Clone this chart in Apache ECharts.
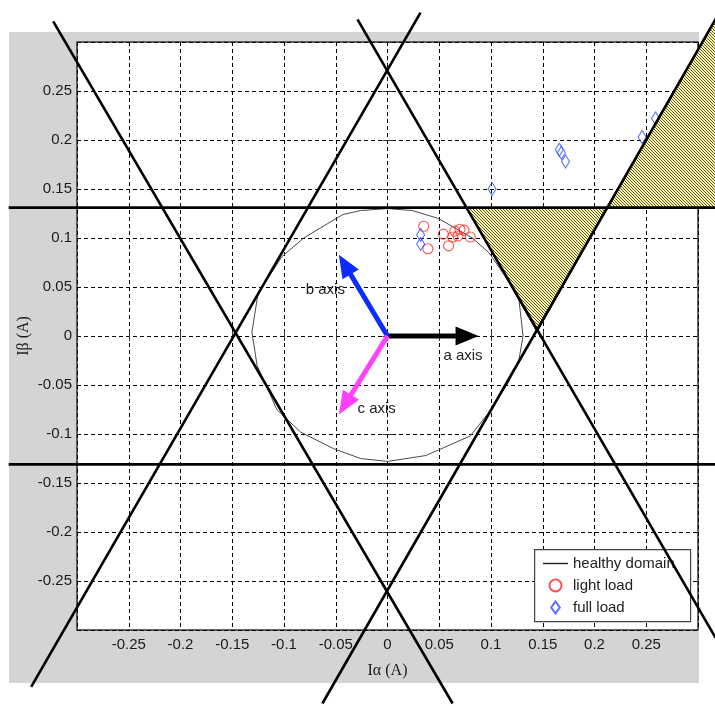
<!DOCTYPE html>
<html><head><meta charset="utf-8">
<script src="https://cdn.jsdelivr.net/npm/echarts/dist/echarts.min.js"></script>
<style>html,body{margin:0;padding:0;background:#fff}#c{width:715px;height:706px}</style>
</head><body><div id="c"></div>
<script>
// ---- data ----
const tickLabelValues = [-0.25,-0.2,-0.15,-0.1,-0.05,0,0.05,0.1,0.15,0.2,0.25];
const healthyDomain = [[0.131,0.000],[0.127,0.037],[0.117,0.056],[0.098,0.085],[0.082,0.100],[0.049,0.120],[0.024,0.128],[0.000,0.130],[-0.026,0.128],[-0.043,0.124],[-0.081,0.100],[-0.102,0.081],[-0.125,0.044],[-0.131,0.004],[-0.126,-0.030],[-0.107,-0.075],[-0.084,-0.098],[-0.052,-0.115],[-0.026,-0.125],[0.000,-0.128],[0.037,-0.122],[0.080,-0.102],[0.098,-0.078],[0.117,-0.047],[0.127,-0.024],[0.131,0.000]];
const lightLoad = [[0.035,0.112],[0.039,0.089],[0.054,0.104],[0.059,0.092],[0.065,0.107],[0.070,0.109],[0.074,0.108],[0.063,0.101],[0.068,0.102],[0.080,0.101]];
const fullLoad = [[0.032,0.103],[0.032,0.094],[0.101,0.150],[0.166,0.190],[0.168,0.187],[0.172,0.178],[0.246,0.203],[0.259,0.222]];
const limitTop = [[-0.366,0.131],[0.318,0.131]];
const limitBottom = [[-0.366,-0.131],[0.318,-0.131]];
const limitL1 = [[-0.323,0.321],[0.0629,-0.375]];
const limitL2 = [[-0.3443,-0.358],[0.0319,0.33]];
const limitL3 = [[-0.029,0.323],[0.317,-0.308]];
const limitL4 = [[-0.0629,-0.375],[0.32,0.329]];
const faultTriangle = [[0.0763,0.131],[0.2123,0.131],[0.1445,0.004]];
const faultUpper = [[0.2123,0.131],[0.32,0.131],[0.32,0.329]];
const phaseNames = ['a axis','b axis','c axis'];
const phaseOrigin = [0,0];
const phaseTips = [[0.088,0],[-0.047,0.083],[-0.047,-0.080]];
const phaseLabelPos = [[0.054,-0.0206],[-0.079,0.047],[-0.029,-0.074]];
const phaseColors = ['#000000','#0a2cff','#ff40ff'];

// ---- hatch pattern ----
const pc = document.createElement('canvas');
pc.width = 3; pc.height = 3;
const pctx = pc.getContext('2d');
for (let y = 0; y < 3; y++) for (let x = 0; x < 3; x++) {
  pctx.fillStyle = ((x - y + 3) % 3 === 0) ? '#5e5a30' : '#fbf5b0';
  pctx.fillRect(x, y, 1, 1);
}
const hatch = {image: pc, repeat: 'repeat'};

const chart = echarts.init(document.getElementById('c'), null, {renderer: 'canvas'});
const fmt = v => {
  const r = +(+v).toFixed(2);
  return tickLabelValues.indexOf(r) >= 0 ? String(r) : '';
};
const labelFont = {fontFamily: '"Liberation Sans", Arial, sans-serif', fontSize: 15, color: '#1a1a1a'};
const split = {show: true, lineStyle: {color: '#000', width: 1, type: [4, 3]}};

function polygonSeries(points) {
  return {
    type: 'custom', clip: false, z: 3, silent: true,
    data: points,
    renderItem: (params, api) => {
      if (params.dataIndex !== 0) return;
      return {type: 'polygon', shape: {points: points.map(p => api.coord(p))},
        style: {fill: hatch, stroke: '#000', lineWidth: 1}};
    }
  };
}
function limitSeries(pts) {
  return {
    type: 'custom', clip: false, z: 6, silent: true,
    data: pts,
    renderItem: (params, api) => {
      if (params.dataIndex !== 0) return;
      const a = api.coord(pts[0]), b = api.coord(pts[1]);
      return {type: 'line', shape: {x1: a[0], y1: a[1], x2: b[0], y2: b[1]},
        style: {stroke: '#000', lineWidth: 2.6}};
    }
  };
}

chart.setOption({
  animation: false,
  backgroundColor: '#fff',
  graphic: [
    {type: 'rect', left: 9, top: 32, shape: {width: 690, height: 651}, style: {fill: '#d4d4d4'}, z: -10},
    {type: 'rect', left: 534, top: 549, shape: {width: 156, height: 72}, style: {fill: '#fff', stroke: '#444', lineWidth: 1.2}, z: 4}
  ],
  grid: {left: 77, top: 42, width: 621, height: 588, show: true, backgroundColor: '#fff',
    borderColor: '#333', borderWidth: 1.5, containLabel: false, outerBoundsMode: 'none'},
  legend: {
    orient: 'vertical', left: 543, top: 556, padding: 0, itemWidth: 25, itemHeight: 12, itemGap: 7,
    z: 5, backgroundColor: 'transparent', selectedMode: false,
    textStyle: {fontFamily: '"Liberation Sans", Arial, sans-serif', fontSize: 15, color: '#222'},
    data: [
      {name: 'healthy domain', icon: 'path://M0,6H25V7.4H0Z', itemStyle: {color: '#222', borderWidth: 0}},
      {name: 'light load', icon: 'circle'},
      {name: 'full load', icon: 'path://M5,0L10,7L5,14L0,7Z'}
    ]
  },
  xAxis: [
    {type: 'value', min: -0.3, max: 0.3, interval: 0.05, position: 'bottom',
     name: 'Iα (A)', nameLocation: 'middle', nameGap: 33, nameMoveOverlap: false,
     nameTextStyle: {fontFamily: '"Liberation Serif", "Times New Roman", serif', fontSize: 16, color: '#1a1a1a'},
     axisLine: {show: false}, axisTick: {show: true, inside: true, length: 5, lineStyle: {color: '#333'}},
     axisLabel: Object.assign({formatter: fmt, margin: 7, showMinLabel: true, showMaxLabel: true}, labelFont),
     splitLine: split},
    {type: 'value', min: -0.3, max: 0.3, interval: 0.05, position: 'top',
     axisLine: {show: false}, axisTick: {show: true, inside: true, length: 5, lineStyle: {color: '#333'}},
     axisLabel: {show: false}, splitLine: {show: false}}
  ],
  yAxis: [
    {type: 'value', min: -0.3, max: 0.3, interval: 0.05, position: 'left',
     name: 'Iβ (A)', nameLocation: 'middle', nameGap: 45, nameMoveOverlap: false,
     nameTextStyle: {fontFamily: '"Liberation Serif", "Times New Roman", serif', fontSize: 16, color: '#1a1a1a'},
     axisLine: {show: false}, axisTick: {show: true, inside: true, length: 5, lineStyle: {color: '#333'}},
     axisLabel: Object.assign({formatter: fmt, margin: 5, showMinLabel: true, showMaxLabel: true}, labelFont),
     splitLine: split},
    {type: 'value', min: -0.3, max: 0.3, interval: 0.05, position: 'right',
     axisLine: {show: false}, axisTick: {show: true, inside: true, length: 5, lineStyle: {color: '#333'}},
     axisLabel: {show: false}, splitLine: {show: false}}
  ],
  series: [
    {name: 'healthy domain', type: 'line', data: healthyDomain, symbol: 'none', showSymbol: false,
     z: 2, lineStyle: {color: '#4a4a4a', width: 1}, itemStyle: {color: '#222'}},
    {name: 'light load', type: 'scatter', data: lightLoad, symbol: 'circle', symbolSize: 10, z: 2,
     itemStyle: {color: 'rgba(0,0,0,0)', borderColor: '#ff2a2a', borderWidth: 1.1}},
    {name: 'full load', type: 'scatter', data: fullLoad, symbol: 'path://M5,0L10,7L5,14L0,7Z', symbolSize: [8, 13], z: 2,
     itemStyle: {color: 'rgba(0,0,0,0)', borderColor: '#2a4bff', borderWidth: 1.1}},
    polygonSeries(faultTriangle),
    polygonSeries(faultUpper),
    limitSeries(limitTop), limitSeries(limitBottom),
    limitSeries(limitL1), limitSeries(limitL2), limitSeries(limitL3), limitSeries(limitL4),
    {type: 'custom', clip: false, z: 4, silent: true, data: phaseTips,
     renderItem: (params, api) => {
       const i = params.dataIndex;
       const s = api.coord(phaseOrigin), e = api.coord(phaseTips[i]);
       const dx = e[0] - s[0], dy = e[1] - s[1], L = Math.hypot(dx, dy);
       const ux = dx / L, uy = dy / L, hl = 23, hw = 9.5;
       const bx = e[0] - ux * hl, by = e[1] - uy * hl;
       const col = phaseColors[i];
       const lp = api.coord(phaseLabelPos[i]);
       return {type: 'group', children: [
         {type: 'line', shape: {x1: s[0], y1: s[1], x2: bx + ux * 2, y2: by + uy * 2}, style: {stroke: col, lineWidth: 5}},
         {type: 'polygon', shape: {points: [[e[0], e[1]], [bx - uy * hw, by + ux * hw], [bx + uy * hw, by - ux * hw]]}, style: {fill: col}},
         {type: 'text', x: lp[0], y: lp[1], style: {text: phaseNames[i], fill: '#222',
           fontFamily: '"Liberation Sans", Arial, sans-serif', fontSize: 15, align: 'left', verticalAlign: 'middle'}}
       ]};
     }}
  ]
});
</script>
</body></html>
